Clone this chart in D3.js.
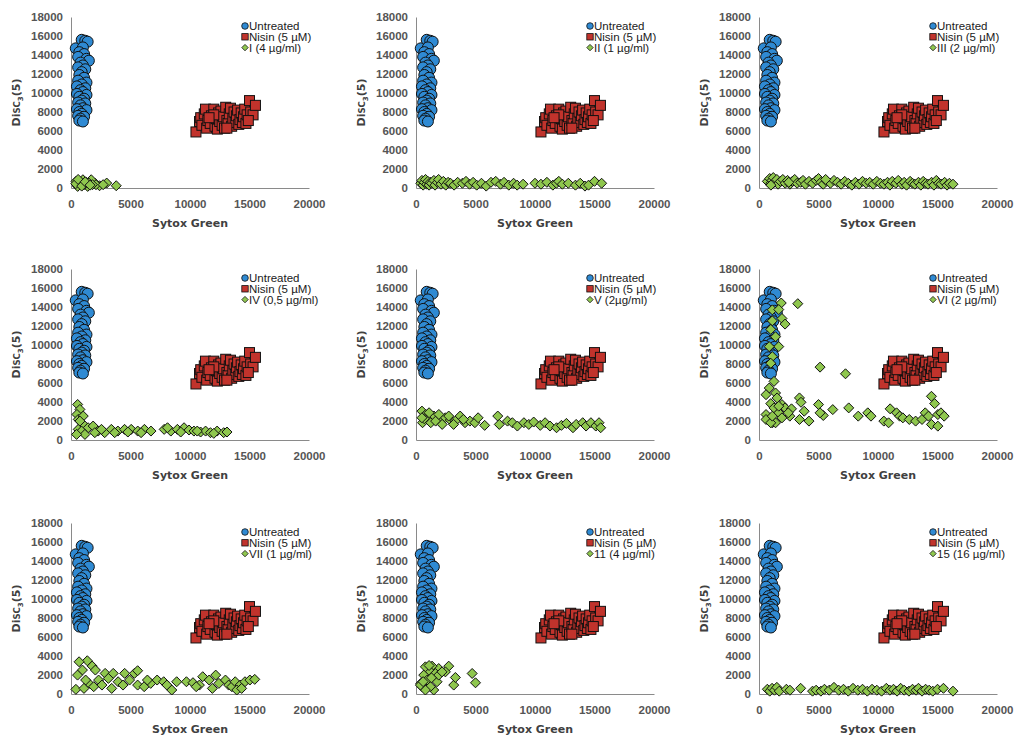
<!DOCTYPE html>
<html>
<head>
<meta charset="utf-8">
<script src="https://cdn.jsdelivr.net/npm/d3@7/dist/d3.min.js"></script>
<style>
  body { margin: 0; background: #fff; }
  svg { display: block; }
</style>
</head>
<body>
<script>
// ---------- DATA ----------
const xTicks = [0, 5000, 10000, 15000, 20000];
const yTicks = [0, 2000, 4000, 6000, 8000, 10000, 12000, 14000, 16000, 18000];
const xTitle = "Sytox Green";
const seriesNames = ["Untreated", "Nisin (5 µM)"];
const treatmentLabels = ["I (4 µg/ml)", "II (1 µg/ml)", "III (2 µg/ml)", "IV (0,5 µg/ml)", "V (2µg/ml)", "VI (2 µg/ml)", "VII (1 µg/ml)", "11 (4 µg/ml)", "15 (16 µg/ml)"];

const untreated = [[400,14700],[900,15600],[1200,15500],[1400,15400],[1000,14800],[700,14300],[1100,14100],[600,13800],[1300,13600],[1500,13400],[800,13200],[1000,12900],[600,12700],[1200,12500],[900,12200],[700,11900],[1100,11600],[1300,11100],[600,11300],[900,10900],[500,10700],[1200,10500],[800,10300],[1000,10100],[500,9900],[1300,9800],[700,9600],[1100,9400],[900,9200],[600,9000],[1200,8900],[800,8700],[1000,8400],[500,8300],[1300,8200],[700,8000],[900,7800],[600,7600],[1100,7500],[800,7300],[700,7100],[1000,7000]];

const nisin = [[10500,5900],[10800,7000],[10900,7400],[11000,6600],[11200,7800],[11300,8300],[11400,6300],[11500,7100],[11700,6800],[11800,7600],[12000,8300],[12100,6500],[12200,7300],[12300,6200],[12400,7900],[12500,7000],[12600,8100],[12700,6600],[12800,7500],[12900,6300],[13000,8500],[13100,7100],[13200,6800],[13300,7800],[13400,8400],[13500,6500],[13600,7300],[13700,8000],[13800,6900],[13900,7600],[14000,8200],[14100,6700],[14200,7200],[14300,7900],[14400,6900],[14500,7500],[14600,8300],[14700,6800],[14800,7700],[15000,9200],[15100,8000],[15300,7700],[15500,8700],[12000,7700],[11600,7400],[13100,6300],[14900,7100]];

const seriesI = [[3800,240],[3000,520],[2400,240],[2000,520],[1700,870],[1300,590],[1000,870],[700,350],[420,700],[1400,170],[2100,350],[560,170],[840,520],[1100,350],[1500,520],[1800,350],[2700,350],[400,450],[600,900],[900,200],[1200,650],[1600,300]];

const seriesII = [[400,500],[500,800],[600,300],[700,600],[800,900],[900,400],[1000,700],[1100,300],[1200,600],[1300,500],[1500,800],[1600,300],[1800,600],[1900,900],[2100,400],[2300,700],[2500,300],[2700,600],[2900,500],[3200,300],[3500,600],[3900,500],[4200,700],[4500,400],[4800,600],[5100,300],[5500,500],[5900,200],[6300,600],[6700,700],[7100,400],[7400,600],[7800,300],[8200,500],[8500,300],[9000,400],[10000,500],[10500,400],[11000,600],[11500,300],[11800,500],[12000,700],[12300,400],[12800,500],[13400,300],[13800,500],[14200,200],[14500,300],[15000,700],[15600,500]];

const seriesIII = [[700,700],[900,1000],[1000,500],[1100,800],[1200,1100],[1300,600],[1500,900],[1600,400],[1800,700],[2000,900],[2200,500],[2400,800],[2600,400],[2800,700],[3000,900],[3200,500],[3500,600],[3700,800],[3900,400],[4200,700],[4500,500],[4800,800],[5000,1000],[5200,600],[5400,400],[5700,700],[6000,500],[6300,800],[6600,600],[6900,400],[7200,700],[7500,500],[7800,300],[8100,600],[8400,400],[8700,700],[9000,500],[9300,600],[9600,400],[9900,700],[10200,500],[10500,400],[10800,600],[11000,300],[11200,700],[11500,500],[11700,800],[12000,400],[12200,600],[12400,300],[12700,700],[12900,500],[13100,400],[13400,600],[13600,300],[13800,700],[14000,500],[14200,400],[14500,600],[14700,300],[14900,800],[15100,500],[15300,400],[15600,600],[15800,300],[16000,500],[16300,400],[1000,300],[2500,600],[5600,900]];

const seriesIV = [[560,3740],[750,3220],[500,2690],[610,2170],[1030,1640],[610,1120],[1440,1290],[1860,1470],[2280,940],[2830,770],[3390,1120],[3940,940],[4500,1120],[5060,1120],[5610,940],[6170,1120],[6720,940],[7830,1120],[8390,940],[8940,1120],[9500,1290],[9920,1050],[10330,940],[10890,840],[11310,940],[11720,770],[12280,940],[12830,770],[13110,840],[890,940],[1170,590],[470,590],[2000,770],[2560,1120],[3670,770],[4780,840],[5890,770],[8110,1290],[9220,840],[10610,940],[12000,700],[1030,2520],[750,1990]];

const seriesV = [[500,3040],[820,2690],[1100,2340],[1510,2520],[1920,2170],[2470,2340],[2880,2100],[3300,1990],[3710,2520],[4120,1820],[4530,1990],[4950,1820],[5220,2340],[5770,1540],[6870,2520],[7000,1640],[7690,1990],[8100,1820],[8520,1470],[9070,1820],[9480,1640],[9890,1890],[10440,1540],[10850,1820],[11260,1470],[11810,1290],[12220,1540],[12640,1750],[13190,1290],[13460,1640],[14010,1820],[14290,1470],[14700,1820],[15110,1470],[15380,1820],[15520,1290],[550,1820],[690,2240],[1240,1820],[1650,1990],[2200,1640],[2750,2520],[1100,2870],[1920,2690],[3160,1640],[3980,2170],[500,2340]];

const seriesVI = [[1870,14420],[3260,14350],[1120,13700],[1660,13730],[1930,12790],[2190,12200],[1120,12540],[990,11640],[1390,10870],[1660,9830],[860,9830],[1120,8780],[990,8080],[5130,7670],[7270,6970],[1260,6170],[860,5470],[1390,4950],[590,4770],[1520,4430],[3400,4430],[3530,3970],[990,3830],[1930,3730],[5000,3730],[1260,3380],[2190,3380],[3800,3030],[2730,3280],[6200,3200],[7540,3380],[11020,3280],[14490,4600],[14760,3830],[1660,2860],[590,2680],[5400,2580],[5130,2860],[8340,2510],[9140,2860],[9410,2510],[11560,2860],[11820,2510],[12090,2330],[12630,2160],[13160,1990],[13700,2160],[13970,2860],[14240,2510],[15030,2680],[15290,2860],[15560,2510],[14490,1640],[15030,1460],[10490,1990],[10890,1810],[4200,1990],[3400,2160],[2590,2510],[1120,1810],[1930,2330],[590,2160],[1390,1810],[2460,2860],[990,1810],[1120,2510],[1660,3560]];

const seriesVII = [[1370,3500],[680,3390],[960,2520],[1780,2940],[2050,2520],[2870,2170],[3550,2170],[4510,2170],[5330,2170],[5600,2450],[550,1990],[410,490],[1500,1120],[2320,1470],[3140,1640],[3960,1290],[4920,1470],[5600,940],[6150,770],[6700,1120],[7240,1470],[7790,1290],[8060,940],[8470,420],[8880,1290],[9700,1290],[10250,1190],[10790,940],[11070,1820],[11610,1470],[12160,1990],[12430,1120],[12980,1470],[13250,940],[13520,770],[13800,1290],[14210,940],[14620,1290],[15030,1470],[15440,1540],[1230,1470],[1910,770],[2600,940],[1090,590],[3420,590],[4370,940],[6420,1470],[10520,770],[11880,590],[13930,420],[14340,590]];

const series11 = [[3170,940],[3310,1740],[4720,2160],[5000,1180],[2750,2930],[2470,2330],[1910,2680],[1630,2160],[1350,2930],[1070,2510],[790,2860],[650,1990],[930,1460],[400,1110],[510,770],[1490,420],[1770,1290],[1210,770],[1910,1990],[2190,2330],[790,420],[370,940],[600,1300],[1100,3000],[1300,1700]];

const series15 = [[700,500],[900,300],[1100,600],[1300,400],[1500,700],[1700,300],[2300,500],[2600,400],[3500,600],[4500,300],[4800,400],[5200,300],[5500,500],[5900,400],[6300,700],[6700,400],[7100,500],[7500,300],[7900,600],[8300,400],[8700,500],[9100,300],[9500,500],[9900,400],[10300,300],[10700,600],[11000,400],[11300,500],[11600,300],[11900,600],[12200,400],[12600,300],[12900,500],[13200,400],[13400,600],[13700,300],[14000,500],[14300,400],[14600,300],[15000,500],[15500,600],[16300,300]];

const treatmentSeries = [seriesI, seriesII, seriesIII, seriesIV, seriesV, seriesVI, seriesVII, series11, series15];

// ---------- LAYOUT / STYLE ----------
const W = 1016, H = 740;
const colX = [71, 416, 759];
const rowBottom = [188, 440, 694];
const plotW = 238, plotH = 171;
const blue = "#2f8ad3", red = "#c1332c", green = "#8fc74e";

const svg = d3.select("body").append("svg").attr("width", W).attr("height", H);

const diamond = r => `M0,${-r}L${r},0L0,${r}L${-r},0Z`;

treatmentSeries.forEach((tdata, i) => {
  const ox = colX[i % 3], oy = rowBottom[Math.floor(i / 3)] - plotH;
  const g = svg.append("g").attr("transform", `translate(${ox},${oy})`);
  const x = d3.scaleLinear().domain([0, 20000]).range([0, plotW]);
  const y = d3.scaleLinear().domain([0, 18000]).range([plotH, 0]);

  const yAxis = g.append("g").call(d3.axisLeft(y).tickValues(yTicks).tickSize(0).tickPadding(8).tickFormat(d3.format("d")));
  const xAxis = g.append("g").attr("transform", `translate(0,${plotH})`)
    .call(d3.axisBottom(x).tickValues(xTicks).tickSize(0).tickPadding(12).tickFormat(d3.format("d")));
  [yAxis, xAxis].forEach(a => {
    a.select(".domain").attr("stroke", "#8a8a8a").attr("stroke-width", 1);
    a.selectAll("text").attr("font-family", "Liberation Sans, Arial, sans-serif")
      .attr("font-size", 11.5).attr("font-weight", "bold").attr("fill", "#555");
  });

  // axis titles
  g.append("text").attr("x", plotW / 2).attr("y", plotH + 39)
    .attr("text-anchor", "middle").attr("font-family", "DejaVu Sans, Verdana, sans-serif")
    .attr("font-size", 11).attr("font-weight", "bold").attr("fill", "#404040").text(xTitle);
  const yt = g.append("text").attr("transform", `translate(-51,${plotH / 2}) rotate(-90)`)
    .attr("text-anchor", "middle").attr("font-family", "DejaVu Sans, Verdana, sans-serif")
    .attr("font-size", 11).attr("font-weight", "bold").attr("fill", "#404040");
  yt.append("tspan").text("Di");
  yt.append("tspan").attr("font-size", 8.5).text("SC");
  yt.append("tspan").attr("font-size", 7).attr("dy", 3).text("3");
  yt.append("tspan").attr("dy", -3).text("(5)");

  // marks
  g.append("g").selectAll("circle").data(untreated).join("circle")
    .attr("cx", d => x(d[0])).attr("cy", d => y(d[1])).attr("r", 5.5)
    .attr("fill", blue).attr("stroke", "#111").attr("stroke-width", 1);
  g.append("g").selectAll("rect").data(nisin).join("rect")
    .attr("x", d => x(d[0]) - 5).attr("y", d => y(d[1]) - 5).attr("width", 10).attr("height", 10)
    .attr("fill", red).attr("stroke", "#111").attr("stroke-width", 1);
  g.append("g").selectAll("path").data(tdata).join("path")
    .attr("d", diamond(5)).attr("transform", d => `translate(${x(d[0])},${y(d[1])})`)
    .attr("fill", green).attr("stroke", "#111").attr("stroke-width", 1);

  // legend
  const lg = g.append("g").attr("transform", `translate(174,9)`);
  const labels = [seriesNames[0], seriesNames[1], treatmentLabels[i]];
  labels.forEach((lab, k) => {
    const ly = k * 10.8;
    if (k === 0) lg.append("circle").attr("cx", 0).attr("cy", ly).attr("r", 3.3).attr("fill", blue).attr("stroke", "#111").attr("stroke-width", 0.8);
    if (k === 1) lg.append("rect").attr("x", -3.2).attr("y", ly - 3.2).attr("width", 6.4).attr("height", 6.4).attr("fill", red).attr("stroke", "#111").attr("stroke-width", 0.8);
    if (k === 2) lg.append("path").attr("d", diamond(3.2)).attr("transform", `translate(0,${ly})`).attr("fill", green).attr("stroke", "#111").attr("stroke-width", 0.8);
    lg.append("text").attr("x", 4).attr("y", ly + 4).attr("font-family", "Liberation Sans, Arial, sans-serif")
      .attr("font-size", 11.5).attr("fill", "#1a1a1a").text(lab);
  });
});
</script>
</body>
</html>
